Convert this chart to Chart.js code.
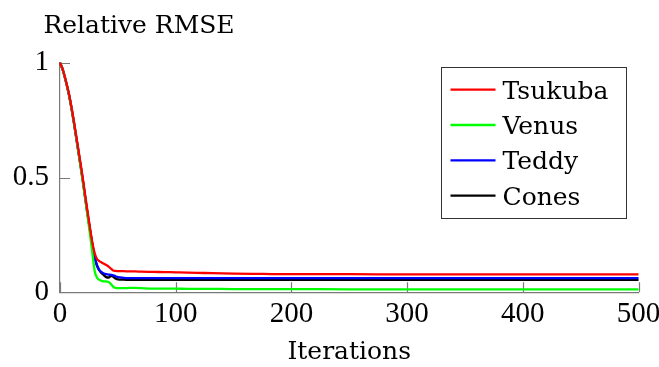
<!DOCTYPE html>
<html>
<head>
<meta charset="utf-8">
<script src="https://cdn.jsdelivr.net/npm/chart.js@4.4.1/dist/chart.umd.min.js"></script>
<style>
  html, body { margin: 0; padding: 0; background: #fff; }
  #wrap { width: 659px; height: 367px; }
</style>
</head>
<body>
<div id="wrap"><canvas id="c" width="659" height="367"></canvas></div>
<script>
// Iteration counts at which the error was sampled
const iterations = [0, 2, 4, 6, 8, 10, 12, 14, 16, 18, 20, 22, 24, 26, 28, 30, 32, 34, 36, 38, 40, 42, 44, 46, 48, 50,
  55, 60, 65, 70, 80, 90, 100, 110, 125, 150, 175, 200, 250, 300, 400, 500];

// Relative RMSE per data set
const tsukuba = [1.0, 0.976, 0.942, 0.902, 0.858, 0.804, 0.745, 0.682, 0.618, 0.553, 0.486, 0.414, 0.345, 0.278, 0.215, 0.17, 0.145, 0.136, 0.13, 0.124, 0.119, 0.112, 0.103, 0.095, 0.093, 0.092,
  0.092, 0.091, 0.091, 0.09, 0.089, 0.088, 0.087, 0.086, 0.084, 0.081, 0.08, 0.079, 0.079, 0.078, 0.078, 0.078];
const venus = [1.0, 0.975, 0.94, 0.9, 0.855, 0.8, 0.74, 0.675, 0.608, 0.54, 0.47, 0.398, 0.325, 0.25, 0.17, 0.092, 0.064, 0.054, 0.05, 0.048, 0.047, 0.045, 0.036, 0.024, 0.019, 0.018,
  0.018, 0.019, 0.019, 0.018, 0.016, 0.016, 0.016, 0.015, 0.015, 0.014, 0.014, 0.014, 0.013, 0.013, 0.013, 0.013];
const teddy = [1.0, 0.975, 0.94, 0.9, 0.855, 0.8, 0.74, 0.675, 0.61, 0.545, 0.478, 0.405, 0.335, 0.27, 0.21, 0.155, 0.118, 0.098, 0.088, 0.082, 0.079, 0.077, 0.076, 0.074, 0.07, 0.066,
  0.063, 0.062, 0.062, 0.062, 0.062, 0.062, 0.062, 0.062, 0.062, 0.062, 0.062, 0.062, 0.062, 0.062, 0.062, 0.062];
const cones = [1.0, 0.975, 0.94, 0.9, 0.855, 0.8, 0.74, 0.675, 0.61, 0.545, 0.478, 0.405, 0.335, 0.268, 0.205, 0.152, 0.115, 0.095, 0.083, 0.074, 0.066, 0.064, 0.072, 0.068, 0.06, 0.056,
  0.055, 0.054, 0.054, 0.054, 0.054, 0.054, 0.054, 0.054, 0.054, 0.054, 0.054, 0.054, 0.054, 0.054, 0.054, 0.054];

const seriesNames = ['Tsukuba', 'Venus', 'Teddy', 'Cones'];
const seriesColors = ['#ff0000', '#00ff00', '#0000ff', '#000000'];
const seriesValues = [tsukuba, venus, teddy, cones];

const xTicks = [0, 100, 200, 300, 400, 500];
const yTicks = [0, 0.5, 1];
const yTitle = 'Relative RMSE';
const xTitle = 'Iterations';

const NUM_FONT = '"Liberation Serif", serif';   // tick numbers
const TXT_FONT = '"DejaVu Serif", serif';       // titles and legend
const NUM_FS = 29;
const TXT_FS = 25;

const datasets = seriesNames.map((name, i) => ({
  label: name,
  data: iterations.map((it, k) => ({ x: it, y: seriesValues[i][k] })),
  borderColor: seriesColors[i],
  backgroundColor: seriesColors[i],
  borderWidth: 2.3,
  pointRadius: 0,
  cubicInterpolationMode: 'monotone',
  clip: false,
  fill: false
}));

// Inward tick marks, the y title above the axis, and a boxed legend in the upper right
const decorations = {
  id: 'decorations',
  beforeDatasetsDraw(chart) {
    const { ctx, chartArea: a, scales: { x, y } } = chart;
    ctx.save();
    ctx.strokeStyle = '#7a7a7a';
    ctx.lineWidth = 1.2;
    ctx.beginPath();
    xTicks.forEach(v => {
      const px = Math.round(x.getPixelForValue(v)) + 0.5;
      ctx.moveTo(px, a.bottom);
      ctx.lineTo(px, a.bottom - 10);
    });
    yTicks.forEach(v => {
      const py = Math.round(y.getPixelForValue(v)) + 0.5;
      ctx.moveTo(a.left, py);
      ctx.lineTo(a.left + 10, py);
    });
    ctx.stroke();
    ctx.restore();
  },
  afterDraw(chart) {
    const { ctx, chartArea: a } = chart;
    ctx.save();
    ctx.font = TXT_FS + 'px ' + TXT_FONT;
    ctx.fillStyle = '#000';
    ctx.textAlign = 'center';
    ctx.textBaseline = 'alphabetic';
    ctx.fillText(yTitle, a.left + 79, 33);

    // legend
    const bx = a.right - 198, by = a.top + 4, bw = 185, bh = 151;
    ctx.fillStyle = '#fff';
    ctx.fillRect(bx, by, bw, bh);
    ctx.strokeStyle = '#333';
    ctx.lineWidth = 1;
    ctx.strokeRect(Math.round(bx) + 0.5, Math.round(by) + 0.5, bw, bh);
    ctx.textAlign = 'left';
    chart.data.datasets.forEach((ds, i) => {
      const cy = by + 23 + i * 35.3;
      ctx.strokeStyle = ds.borderColor;
      ctx.lineWidth = 2.3;
      ctx.beginPath();
      ctx.moveTo(bx + 10, cy);
      ctx.lineTo(bx + 55, cy);
      ctx.stroke();
      ctx.fillStyle = '#000';
      ctx.fillText(ds.label, bx + 62, cy + 9);
    });
    ctx.restore();
  }
};

new Chart(document.getElementById('c'), {
  type: 'line',
  data: { datasets },
  options: {
    responsive: false,
    animation: false,
    devicePixelRatio: 1,
    layout: { padding: { left: 0, right: 20.5, top: 62.7, bottom: 0 } },
    plugins: { legend: { display: false }, tooltip: { enabled: false } },
    scales: {
      x: {
        type: 'linear',
        min: 0, max: 500,
        afterBuildTicks: s => { s.ticks = xTicks.map(v => ({ value: v })); },
        afterFit: s => { s.height = 74.7; s.paddingLeft = 0; s.paddingRight = 0; },
        grid: { display: false, drawTicks: false },
        border: { display: true, color: '#7a7a7a', width: 1.2 },
        ticks: { color: '#000', font: { family: NUM_FONT, size: NUM_FS, lineHeight: 1.0 }, padding: 8, maxRotation: 0, callback: v => String(v) },
        title: { display: true, text: xTitle, color: '#000', font: { family: TXT_FONT, size: TXT_FS }, padding: { top: 0, bottom: 0 } }
      },
      y: {
        type: 'linear',
        min: 0, max: 1,
        afterBuildTicks: s => { s.ticks = yTicks.map(v => ({ value: v })); },
        afterFit: s => { s.width = 60; s.paddingTop = 0; s.paddingBottom = 0; },
        grid: { display: false, drawTicks: false },
        border: { display: true, color: '#7a7a7a', width: 1.2 },
        ticks: { color: '#000', font: { family: NUM_FONT, size: NUM_FS }, padding: 11, callback: v => String(v) }
      }
    }
  },
  plugins: [decorations]
});
</script>
</body>
</html>
